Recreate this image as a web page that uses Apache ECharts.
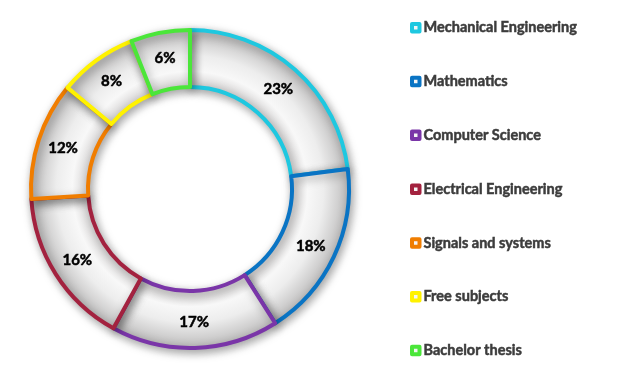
<!DOCTYPE html>
<html>
<head>
<meta charset="utf-8">
<script src="https://cdn.jsdelivr.net/npm/echarts@6/dist/echarts.min.js"></script>
<style>html,body{margin:0;padding:0;background:#fff;}#c{width:640px;height:377px;}</style>
</head>
<body>
<div id="c"></div>
<script>
const categories = ['Mechanical Engineering','Mathematics','Computer Science','Electrical Engineering','Signals and systems','Free subjects','Bachelor thesis'];
const values = [23, 18, 17, 16, 12, 8, 6];
const colors = ['#1ec8e0','#0a74c4','#7a35a8','#a3223f','#f07d00','#fff200','#4be63a'];

const chart = echarts.init(document.getElementById('c'));
const fill = {
  type: 'radial', x: 190, y: 189, r: 159, global: true,
  colorStops: [
    {offset: 0, color: '#d2d0d0'},
    {offset: 0.64, color: '#d4d2d2'},
    {offset: 0.74, color: '#f8f8f8'},
    {offset: 0.84, color: '#ededed'},
    {offset: 1, color: '#bdbcbc'}
  ]
};
chart.setOption({
  animation: false,
  legend: {
    orient: 'vertical',
    left: 405,
    top: 15,
    itemWidth: 7.5,
    itemHeight: 7.5,
    itemGap: 38.3,
    icon: 'rect',
    textStyle: {fontFamily: 'Lato', fontWeight: 'bold', fontSize: 14.5, color: '#3c3c3c', lineHeight: 14,
      textBorderColor: '#3c3c3c', textBorderWidth: 0.5, padding: [0,0,0,-1]},
    data: categories.map((n, i) => ({name: n, itemStyle: {color: '#f4f4f4', borderColor: colors[i], borderWidth: 4}}))
  },
  series: [{
    type: 'pie',
    center: [190, 189],
    radius: [102, 159],
    startAngle: 90,
    clockwise: true,
    label: {
      show: true, position: 'inside',
      formatter: p => p.value + '%',
      fontFamily: 'Lato', fontWeight: 'bold', fontSize: 15, color: '#000',
      textBorderColor: '#000', textBorderWidth: 0.5
    },
    labelLine: {show: false},
    emphasis: {disabled: true},
    data: categories.map((n, i) => ({
      name: n, value: values[i],
      itemStyle: {
        color: fill, borderColor: colors[i], borderWidth: 4,
        shadowBlur: 10, shadowColor: 'rgba(0,0,0,0.35)', shadowOffsetX: 2, shadowOffsetY: 3
      }
    }))
  }]
});
</script>
</body>
</html>
